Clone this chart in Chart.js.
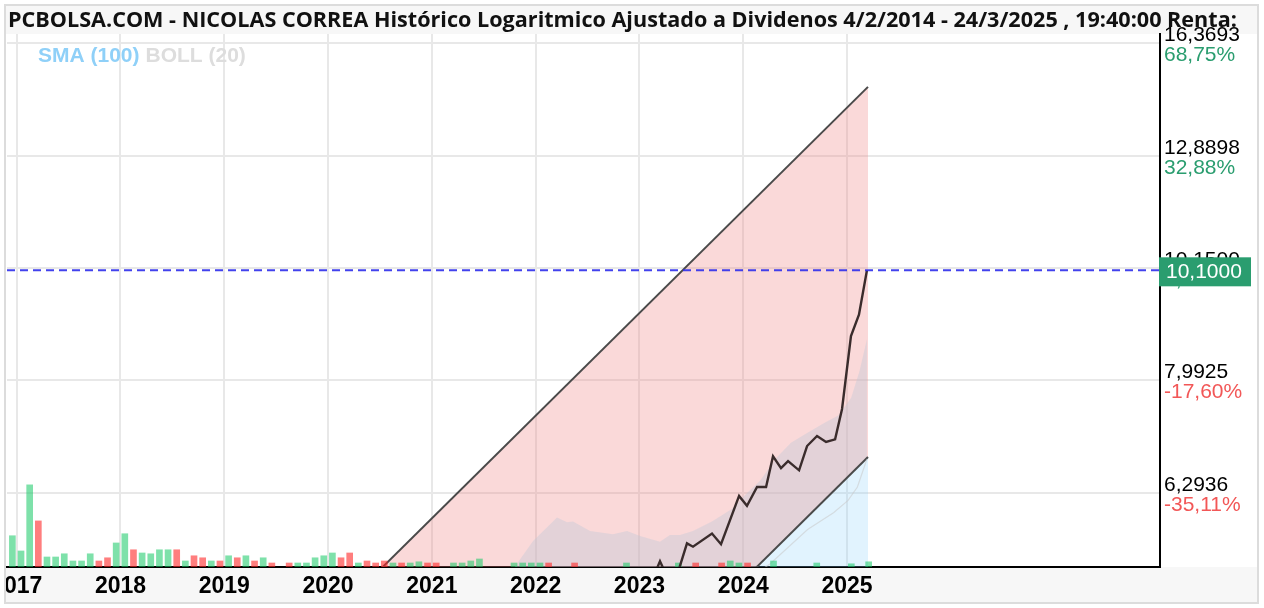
<!DOCTYPE html>
<html><head><meta charset="utf-8">
<script src="https://cdn.jsdelivr.net/npm/chart.js@4.4.1/dist/chart.umd.min.js"></script>
<style>html,body{margin:0;padding:0;background:#fff;}canvas{display:block;}</style>
</head><body>
<canvas id="c" width="1264" height="608"></canvas>
<script>
// ---------- DATA ----------
const titleText = 'PCBOLSA.COM - NICOLAS CORREA Histórico Logaritmico Ajustado a Dividenos 4/2/2014 - 24/3/2025 , 19:40:00 Renta:';
const legendItems = ['SMA (100)', 'BOLL (20)'];
const yearTicks = [2017, 2018, 2019, 2020, 2021, 2022, 2023, 2024, 2025];
const xRange = [2016.9065, 2028.0155];
const yRange = [5.373, 16.697];
const priceTicks = [6.2936, 7.9925, 10.15, 12.8898, 16.3693];
const pctLabels = ['-35,11%', '-17,60%', '4,64%', '32,88%', '68,75%'];
const lastPrice = 10.10;

const priceDates = [2023.04, 2023.12, 2023.198, 2023.29, 2023.36, 2023.458, 2023.516, 2023.699, 2023.786, 2023.96,
  2024.036, 2024.133, 2024.22, 2024.287, 2024.364, 2024.432, 2024.538, 2024.615, 2024.711, 2024.798,
  2024.885, 2024.952, 2025.038, 2025.115, 2025.192];
const priceValues = [5.10, 5.22, 5.44, 5.20, 5.27, 5.65, 5.61, 5.77, 5.64, 6.25,
  6.12, 6.37, 6.37, 6.80, 6.63, 6.73, 6.60, 6.95, 7.10, 7.01,
  7.05, 7.52, 8.78, 9.19, 10.10];

const bollDates = [2021.70, 2021.82, 2021.975, 2022.206, 2022.303, 2022.36, 2022.524, 2022.745, 2022.88, 2023.006,
  2023.198, 2023.294, 2023.391, 2023.516, 2023.699, 2023.89, 2024.03, 2024.16, 2024.32, 2024.46,
  2024.62, 2024.78, 2024.92, 2025.04, 2025.12, 2025.192];
const bollUpper = [5.20, 5.41, 5.68, 5.97, 5.91, 5.92, 5.80, 5.76, 5.80, 5.74,
  5.67, 5.75, 5.75, 5.80, 5.92, 6.08, 6.28, 6.45, 6.78, 7.00,
  7.15, 7.30, 7.42, 7.70, 8.15, 8.72];

const smaDates = [2024.10, 2024.26, 2024.62, 2024.87, 2025.01, 2025.10, 2025.192];
const smaValues = [5.28, 5.41, 5.82, 6.03, 6.19, 6.37, 6.76];

const channelDates = [2014.093, 2025.202];
const channelUpper = [1.318, 14.92];
const channelLower = [0.600, 6.79];

const volumeMonths = ['2016-12','2017-01','2017-02','2017-03','2017-04','2017-05','2017-06','2017-07','2017-08','2017-09',
  '2017-10','2017-11','2017-12','2018-01','2018-02','2018-03','2018-04','2018-05','2018-06','2018-07',
  '2018-08','2018-09','2018-10','2018-11','2018-12','2019-01','2019-02','2019-03','2019-04','2019-05',
  '2019-06','2019-08','2019-09','2019-10','2019-11','2019-12','2020-01','2020-02','2020-03','2020-04',
  '2020-05','2020-06','2020-07','2020-08','2020-09','2020-10','2020-11','2020-12','2021-01','2021-03',
  '2021-04','2021-05','2021-06','2021-10','2021-11','2021-12','2022-01','2022-02','2022-05','2022-11',
  '2023-05','2023-07','2023-10','2023-11','2023-12','2024-01','2024-04','2024-09','2025-01','2025-03'];
const volumeValues = [78,40,205,115,25,25,33,15,15,33,
  15,23,60,83,43,35,33,43,43,43,
  15,28,23,15,15,28,23,28,15,23,
  10,10,10,10,23,28,35,23,35,10,
  15,10,15,10,10,10,13,10,10,10,
  10,15,20,10,10,10,10,10,10,10,
  10,10,10,15,10,10,15,10,8,13];
const volumeUp = [1,1,1,0,1,1,1,1,1,1,
  0,0,1,1,0,1,1,1,1,0,
  1,0,0,1,0,1,0,1,0,1,
  0,0,1,1,1,1,1,0,0,1,
  0,0,0,1,0,1,1,0,0,1,
  1,1,1,1,1,1,1,0,0,1,
  1,0,0,1,1,0,1,1,1,1];
const volumeMax = 1330;

// ---------- COLOURS / STYLE ----------
const GREEN = '#2a9d6f', RED = '#f25757';
const toXY = (xs, ys) => xs.map((x, i) => ({x, y: ys[i]}));
const monthToYear = m => { const [y, mo] = m.split('-').map(Number); return y + (mo - 0.5) / 12; };
const fmt = v => v.toFixed(4).replace('.', ',');

const decor = {
  id: 'decor',
  beforeDraw(chart) {
    const {ctx, chartArea: a, width: W, height: H} = chart;
    ctx.save();
    ctx.fillStyle = '#fff'; ctx.fillRect(0, 0, W, H);
    ctx.fillStyle = '#f7f7f7';
    ctx.fillRect(5, 5, W - 10, a.top - 5);
    ctx.fillRect(5, a.bottom, W - 10, H - 5 - a.bottom);
    ctx.restore();
  },
  afterDraw(chart) {
    const {ctx, chartArea: a, width: W, height: H} = chart;
    const ys = chart.scales.y;
    ctx.save();
    // title
    ctx.font = 'bold 21.6px "Open Sans", "Liberation Sans", sans-serif';
    ctx.fillStyle = '#111'; ctx.textAlign = 'left'; ctx.textBaseline = 'alphabetic';
    ctx.fillText(titleText, 8, 27);
    // legend
    ctx.font = 'bold 21px "Liberation Sans", Arial, sans-serif';
    let lx = a.left + 31;
    const lcol = ['#8fd0f8', '#dddddd'];
    legendItems.forEach((t, i) => {
      ctx.fillStyle = lcol[i];
      ctx.fillText(t, lx, a.top + 28);
      lx += ctx.measureText(t).width + 6;
    });
    // right labels
    ctx.font = '21px "Liberation Sans", Arial, sans-serif';
    const x0 = a.right + 4;
    priceTicks.forEach((v, i) => {
      const y = ys.getPixelForValue(v);
      ctx.fillStyle = '#000';
      ctx.fillText(fmt(v), x0, y - 2);
      ctx.fillStyle = pctLabels[i].startsWith('-') ? RED : GREEN;
      ctx.fillText(pctLabels[i], x0, y + 18);
    });
    const yp = ys.getPixelForValue(lastPrice);
    ctx.fillStyle = GREEN;
    ctx.fillRect(a.right - 1, yp - 13, 92, 29);
    ctx.fillStyle = '#fff';
    ctx.fillText(fmt(lastPrice), x0 + 2, yp + 8);
    // outer frame
    ctx.fillStyle = '#fff';
    ctx.fillRect(0, 0, 4, H); ctx.fillRect(0, 0, W, 4);
    ctx.fillRect(W - 5, 0, 5, H); ctx.fillRect(0, H - 4, W, 4);
    ctx.strokeStyle = '#dcdcdc'; ctx.lineWidth = 2;
    ctx.strokeRect(5, 5, W - 11, H - 10);
    ctx.restore();
  }
};

new Chart(document.getElementById('c'), {
  type: 'line',
  data: {
    datasets: [
      {label: 'Precio', data: toXY(priceDates, priceValues), borderColor: '#3a2c2c', borderWidth: 2.4,
        pointRadius: 0, tension: 0, fill: false, order: 1},
      {label: 'Último', data: [{x: xRange[0], y: lastPrice}, {x: xRange[1], y: lastPrice}],
        borderColor: 'rgba(45,45,235,0.9)', borderWidth: 2, borderDash: [8, 5], pointRadius: 0, fill: false, order: 0},
      {type: 'bar', label: 'Volumen', yAxisID: 'yVol',
        data: volumeMonths.map((m, i) => ({x: monthToYear(m), y: volumeValues[i]})),
        backgroundColor: volumeUp.map(u => u ? 'rgba(20,200,100,0.55)' : 'rgba(255,40,40,0.6)'),
        borderWidth: 0, barThickness: 6, order: 3},
      {label: 'SMA (100)', data: toXY(smaDates, smaValues), borderColor: 'rgba(200,200,200,0.55)', borderWidth: 1.2,
        pointRadius: 0, fill: false, order: 4},
      {label: 'BOLL (20)', data: toXY(bollDates, bollUpper), borderColor: 'rgba(0,0,0,0)', borderWidth: 1,
        backgroundColor: 'rgba(190,200,215,0.38)', fill: 6, pointRadius: 0, order: 6},
      {label: 'Canal sup', data: toXY(channelDates, channelUpper), borderColor: '#4a4a4a', borderWidth: 2,
        backgroundColor: 'rgba(240,128,128,0.3)', fill: 6, pointRadius: 0, order: 7},
      {label: 'Canal inf', data: toXY(channelDates, channelLower), borderColor: '#4a4a4a', borderWidth: 2,
        backgroundColor: 'rgba(135,206,250,0.25)', fill: 'start', pointRadius: 0, order: 5}
    ]
  },
  options: {
    responsive: false, animation: false, events: [],
    layout: {padding: {left: 7, top: 34, right: 0, bottom: 0}},
    plugins: {legend: {display: false}, tooltip: {enabled: false}, title: {display: false}},
    scales: {
      x: {type: 'linear', min: xRange[0], max: xRange[1], offset: false,
        afterBuildTicks: s => { s.ticks = yearTicks.map(v => ({value: v})); },
        afterFit: s => { s.height = 41; s.paddingLeft = 0; s.paddingRight = 0; },
        grid: {color: '#e8e8e8', lineWidth: 2, drawTicks: false, offset: false},
        border: {display: true, color: '#000', width: 2},
        ticks: {autoSkip: false, maxRotation: 0, padding: 6, color: '#000',
          font: {family: '"Liberation Sans", Arial, sans-serif', size: 23, weight: 'bold'},
          callback: v => String(v)}
      },
      y: {type: 'logarithmic', position: 'right', min: yRange[0], max: yRange[1],
        afterBuildTicks: s => { s.ticks = priceTicks.map(v => ({value: v})); },
        afterFit: s => { s.width = 104; s.paddingTop = 0; s.paddingBottom = 0; },
        grid: {color: '#e8e8e8', lineWidth: 2, drawTicks: false},
        border: {display: true, color: '#000', width: 2},
        ticks: {display: false}
      },
      yVol: {type: 'linear', display: false, min: 0, max: volumeMax}
    }
  },
  plugins: [decor]
});
</script>
</body></html>
